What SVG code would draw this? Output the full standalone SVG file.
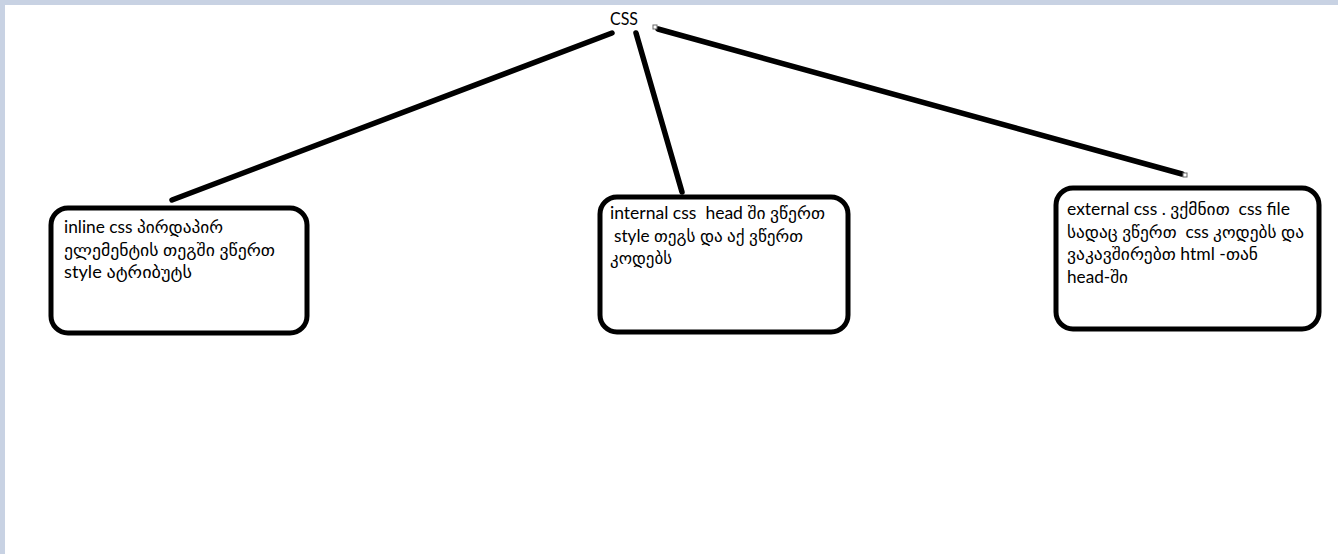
<svg xmlns="http://www.w3.org/2000/svg" width="1338" height="554" viewBox="0 0 1338 554">
<style>
.bg{fill:#c8d2e3}
.box{fill:#ffffff;stroke:#000000;stroke-width:5}
.edge{stroke:#000000;stroke-width:5.5;stroke-linecap:round;fill:none}
.handle{fill:#ffffff;stroke:#666666;stroke-width:1}
.t{font-family:Lato,"DejaVu Sans",sans-serif;font-size:17px;fill:#000000}
</style>
<rect x="0" y="0" width="1338" height="554" fill="#ffffff"/>
<rect class="bg" x="0" y="0" width="1338" height="5"/>
<rect class="bg" x="0" y="0" width="5" height="554"/>
<g id="connectors">
<line class="edge" x1="612" y1="33" x2="172" y2="200"/>
<line class="edge" x1="636" y1="33" x2="682" y2="192"/>
<line class="edge" x1="658" y1="29" x2="1182" y2="174"/>
<rect class="handle" x="653" y="25" width="4" height="4"/>
<rect class="handle" x="1183" y="173" width="4" height="4"/>
</g>
<g id="root">
<text class="t" x="610" y="25" textLength="28" lengthAdjust="spacingAndGlyphs">CSS</text>
</g>
<g id="inline">
<rect class="box" x="51" y="208" width="256" height="125" rx="17"/>
<text class="t" xml:space="preserve"><tspan x="64" y="233" textLength="159" lengthAdjust="spacingAndGlyphs">inline css პირდაპირ</tspan><tspan x="64" y="256" textLength="211" lengthAdjust="spacingAndGlyphs">ელემენტის თეგში ვწერთ</tspan><tspan x="64" y="278" textLength="128" lengthAdjust="spacingAndGlyphs">style ატრიბუტს</tspan></text>
</g>
<g id="internal">
<rect class="box" x="600" y="197" width="248" height="135" rx="17"/>
<text class="t" xml:space="preserve"><tspan x="610" y="219" textLength="215" lengthAdjust="spacingAndGlyphs">internal css  head ში ვწერთ</tspan><tspan x="614" y="242" textLength="189" lengthAdjust="spacingAndGlyphs">style თეგს და აქ ვწერთ</tspan><tspan x="610" y="264" textLength="62" lengthAdjust="spacingAndGlyphs">კოდებს</tspan></text>
</g>
<g id="external">
<rect class="box" x="1056" y="188" width="263" height="141" rx="17"/>
<text class="t" xml:space="preserve"><tspan x="1067" y="215" textLength="223" lengthAdjust="spacingAndGlyphs">external css . ვქმნით  css file</tspan><tspan x="1067" y="238" textLength="237" lengthAdjust="spacingAndGlyphs">სადაც ვწერთ  css კოდებს და</tspan><tspan x="1067" y="260" textLength="191" lengthAdjust="spacingAndGlyphs">ვაკავშირებთ html -თან</tspan><tspan x="1067" y="283" textLength="61" lengthAdjust="spacingAndGlyphs">head-ში</tspan></text>
</g>
</svg>
